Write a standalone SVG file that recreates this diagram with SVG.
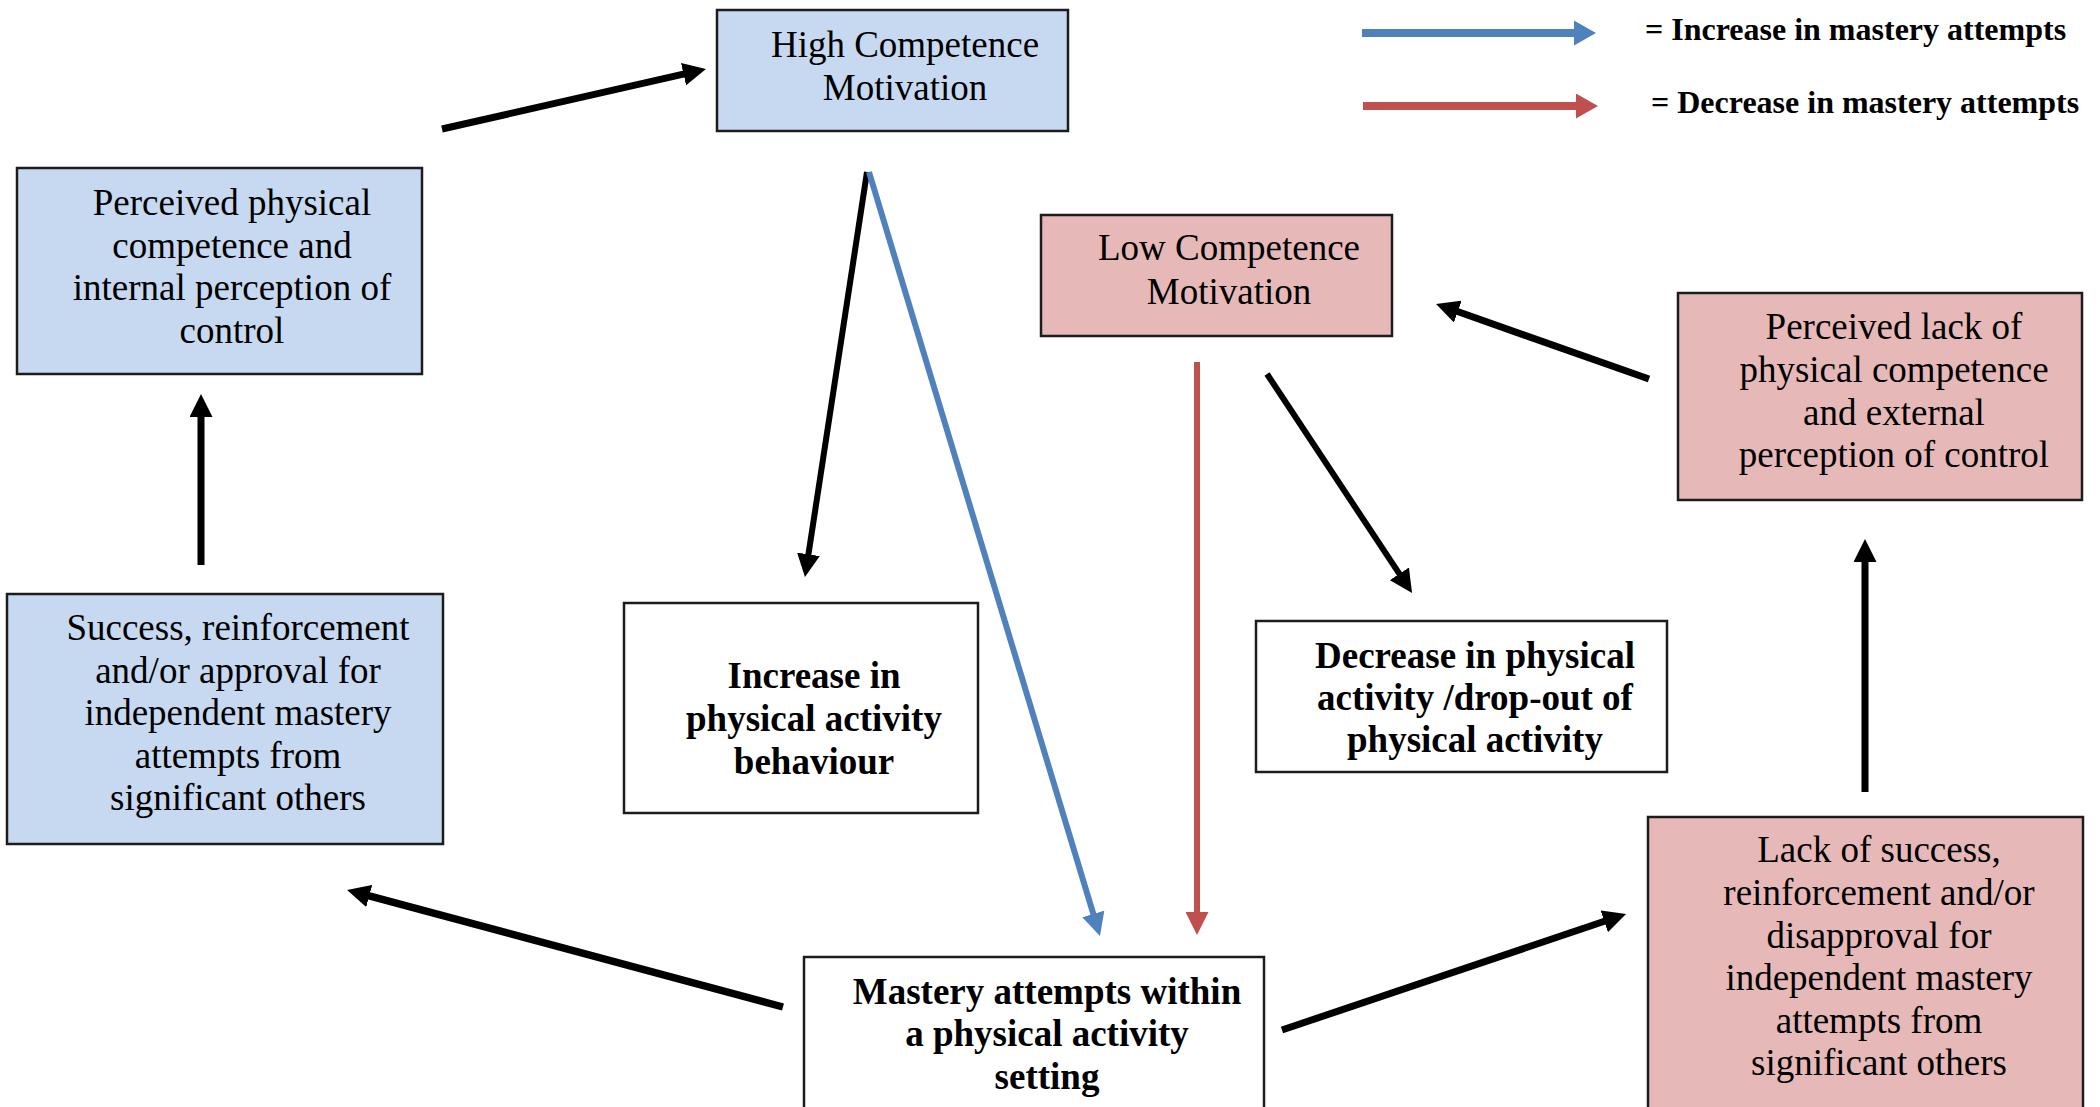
<svg xmlns="http://www.w3.org/2000/svg" width="2100" height="1107" viewBox="0 0 2100 1107">
<defs>
<style>
.box{stroke:#1c1c1c;stroke-width:2.5}
.blue{fill:#C6D9F1}
.pink{fill:#E6B9B8}
.white{fill:#ffffff}
.t{font-family:"Liberation Serif","Times New Roman",serif;font-size:37px;fill:#000;text-anchor:middle}
.b{font-weight:bold}
.lg{font-family:"Liberation Serif","Times New Roman",serif;font-size:32px;font-weight:bold;fill:#000}
.k{stroke:#000;fill:none}
.bl{stroke:#4F81BD;fill:none}
.rd{stroke:#C0504D;fill:none}
</style>
<marker id="hk" markerUnits="userSpaceOnUse" markerWidth="23" markerHeight="23" refX="1" refY="11.5" orient="auto" viewBox="0 0 23 23"><path d="M0,0 L23,11.5 L0,23 z" fill="#000"/></marker>
<marker id="hb" markerUnits="userSpaceOnUse" markerWidth="23" markerHeight="23" refX="1" refY="11.5" orient="auto" viewBox="0 0 23 23"><path d="M0,0 L23,11.5 L0,23 z" fill="#4F81BD"/></marker>
<marker id="hr" markerUnits="userSpaceOnUse" markerWidth="23" markerHeight="23" refX="1" refY="11.5" orient="auto" viewBox="0 0 23 23"><path d="M0,0 L23,11.5 L0,23 z" fill="#C0504D"/></marker>
<marker id="lb" markerUnits="userSpaceOnUse" markerWidth="22" markerHeight="25" refX="1" refY="12.5" orient="auto" viewBox="0 0 22 25"><path d="M0,0 L22,12.5 L0,25 z" fill="#4F81BD"/></marker>
<marker id="lr" markerUnits="userSpaceOnUse" markerWidth="22" markerHeight="25" refX="1" refY="12.5" orient="auto" viewBox="0 0 22 25"><path d="M0,0 L22,12.5 L0,25 z" fill="#C0504D"/></marker>
</defs>
<rect width="2100" height="1107" fill="#ffffff"/>

<g id="high-competence">
<rect class="box blue" x="717" y="10" width="351" height="121"/>
<text class="t" x="905" y="57">High Competence</text>
<text class="t" x="905" y="100">Motivation</text>
</g>

<g id="perceived-competence">
<rect class="box blue" x="17" y="168" width="405" height="206"/>
<text class="t" x="232" y="215">Perceived physical</text>
<text class="t" x="232" y="258">competence and</text>
<text class="t" x="232" y="300">internal perception of</text>
<text class="t" x="232" y="343">control</text>
</g>

<g id="success">
<rect class="box blue" x="7" y="594" width="436" height="250"/>
<text class="t" x="238" y="640">Success, reinforcement</text>
<text class="t" x="238" y="683">and/or approval for</text>
<text class="t" x="238" y="725">independent mastery</text>
<text class="t" x="238" y="768">attempts from</text>
<text class="t" x="238" y="810">significant others</text>
</g>

<g id="increase-pa">
<rect class="box white" x="624" y="603" width="354" height="210"/>
<text class="t b" x="814" y="688">Increase in</text>
<text class="t b" x="814" y="731">physical activity</text>
<text class="t b" x="814" y="774">behaviour</text>
</g>

<g id="mastery-attempts">
<rect class="box white" x="804" y="957" width="460" height="170"/>
<text class="t b" x="1047" y="1004">Mastery attempts within</text>
<text class="t b" x="1047" y="1046">a physical activity</text>
<text class="t b" x="1047" y="1089">setting</text>
</g>

<g id="low-competence">
<rect class="box pink" x="1041" y="215" width="351" height="121"/>
<text class="t" x="1229" y="260">Low Competence</text>
<text class="t" x="1229" y="304">Motivation</text>
</g>

<g id="decrease-pa">
<rect class="box white" x="1256" y="621" width="411" height="151"/>
<text class="t b" x="1475" y="668">Decrease in physical</text>
<text class="t b" x="1475" y="710">activity /drop-out of</text>
<text class="t b" x="1475" y="752">physical activity</text>
</g>

<g id="perceived-lack">
<rect class="box pink" x="1678" y="293" width="404" height="207"/>
<text class="t" x="1894" y="339">Perceived lack of</text>
<text class="t" x="1894" y="382">physical competence</text>
<text class="t" x="1894" y="425">and external</text>
<text class="t" x="1894" y="467">perception of control</text>
</g>

<g id="lack-success">
<rect class="box pink" x="1648" y="817" width="435" height="310"/>
<text class="t" x="1879" y="862">Lack of success,</text>
<text class="t" x="1879" y="905">reinforcement and/or</text>
<text class="t" x="1879" y="948">disapproval for</text>
<text class="t" x="1879" y="990">independent mastery</text>
<text class="t" x="1879" y="1033">attempts from</text>
<text class="t" x="1879" y="1075">significant others</text>
</g>

<g id="legend">
<line class="bl" x1="1362" y1="33" x2="1575" y2="33" stroke-width="8" marker-end="url(#lb)"/>
<line class="rd" x1="1363" y1="106" x2="1577" y2="106" stroke-width="8" marker-end="url(#lr)"/>
<text class="lg" x="1645" y="40">= Increase in mastery attempts</text>
<text class="lg" x="1651" y="113">= Decrease in mastery attempts</text>
</g>

<g id="connectors">
<line class="k" x1="442" y1="129" x2="684.5" y2="73.9" stroke-width="7" marker-end="url(#hk)"/>
<line class="k" x1="201" y1="565" x2="201" y2="416" stroke-width="7" marker-end="url(#hk)"/>
<line class="k" x1="867" y1="172" x2="808.3" y2="555.3" stroke-width="6" marker-end="url(#hk)"/>
<line class="bl" x1="869" y1="172" x2="1093.6" y2="914.9" stroke-width="6" marker-end="url(#hb)"/>
<line class="rd" x1="1197" y1="362" x2="1197" y2="913" stroke-width="6" marker-end="url(#hr)"/>
<line class="k" x1="1267" y1="374" x2="1399.9" y2="574.7" stroke-width="6" marker-end="url(#hk)"/>
<line class="k" x1="1649" y1="379" x2="1456.8" y2="311.3" stroke-width="7" marker-end="url(#hk)"/>
<line class="k" x1="1865" y1="792" x2="1865" y2="561" stroke-width="7" marker-end="url(#hk)"/>
<line class="k" x1="783" y1="1007" x2="368.3" y2="895.7" stroke-width="7.5" marker-end="url(#hk)"/>
<line class="k" x1="1282" y1="1030" x2="1605.2" y2="921" stroke-width="7" marker-end="url(#hk)"/>
</g>
</svg>
